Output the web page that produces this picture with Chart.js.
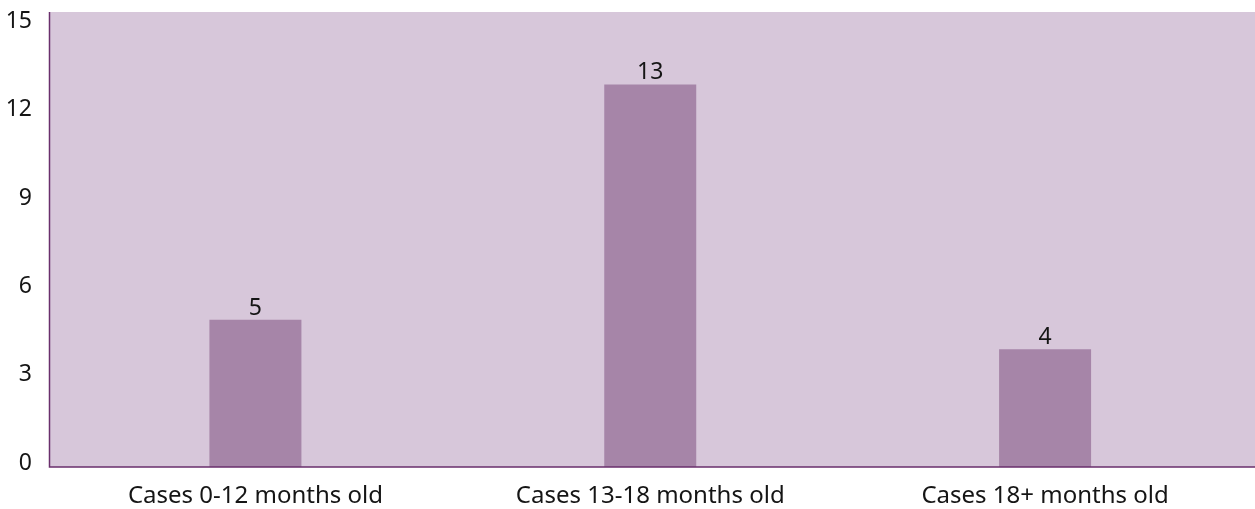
<!DOCTYPE html>
<html>
<head>
<meta charset="utf-8">
<script src="https://cdn.jsdelivr.net/npm/chart.js@4"></script>
<style>
  html, body { margin: 0; padding: 0; background: #ffffff; }
</style>
</head>
<body>
<canvas id="chart" width="1255" height="509"></canvas>
<script>
// Case counts by age group
const categories = ['Cases 0-12 months old', 'Cases 13-18 months old', 'Cases 18+ months old'];
const caseCounts = [5, 13, 4];
const yTickStep = 3;

const PLOT_BG = '#d7c7da';
const BAR_COLOR = '#a685a8';
const AXIS_COLOR = '#6a2f6c';
const TEXT_COLOR = '#151515';
const FONT = '"Noto Sans", "Open Sans", sans-serif';
const FONT_SIZE = 23;
const CATEGORY_FONT_SIZE = 24;

// Plot background and axis lines, extended a little past the category band
const plotFrame = {
  id: 'plotFrame',
  beforeDatasetsDraw(chart) {
    const { ctx, chartArea: a } = chart;
    const left = a.left - 8.5, right = chart.width;
    ctx.save();
    ctx.fillStyle = PLOT_BG;
    ctx.fillRect(left, a.top, right - left, a.bottom - a.top);
    ctx.restore();
  },
  afterDatasetsDraw(chart) {
    const { ctx, chartArea: a } = chart;
    const left = a.left - 8.5, right = chart.width;
    ctx.save();
    ctx.strokeStyle = AXIS_COLOR;
    ctx.lineWidth = 1.5;
    ctx.beginPath();
    ctx.moveTo(left, a.top);
    ctx.lineTo(left, a.bottom);
    ctx.lineTo(right, a.bottom);
    ctx.stroke();
    ctx.restore();
  }
};

// Value labels above each bar
const valueLabels = {
  id: 'valueLabels',
  afterDatasetsDraw(chart) {
    const { ctx } = chart;
    const meta = chart.getDatasetMeta(0);
    ctx.save();
    ctx.fillStyle = TEXT_COLOR;
    ctx.font = FONT_SIZE + 'px ' + FONT;
    ctx.textAlign = 'center';
    ctx.textBaseline = 'alphabetic';
    meta.data.forEach((bar, i) => {
      ctx.fillText(String(chart.data.datasets[0].data[i]), bar.x, bar.y - 5);
    });
    ctx.restore();
  }
};

new Chart(document.getElementById('chart'), {
  type: 'bar',
  data: {
    labels: categories,
    datasets: [{
      data: caseCounts,
      backgroundColor: BAR_COLOR,
      borderWidth: 0,
      categoryPercentage: 1,
      barPercentage: 0.233
    }]
  },
  options: {
    responsive: false,
    animation: false,
    layout: { padding: { left: 0, right: 12.5, top: 12, bottom: 0 } },
    plugins: {
      legend: { display: false },
      tooltip: { enabled: false }
    },
    scales: {
      x: {
        grid: { display: false, drawTicks: false },
        border: { display: false },
        ticks: {
          color: TEXT_COLOR,
          font: { family: FONT, size: CATEGORY_FONT_SIZE },
          padding: 15,
          maxRotation: 0
        },
        afterFit(scale) {
          scale.height = 42;
        }
      },
      y: {
        min: 0,
        max: 15.46,
        grid: { display: false, drawTicks: false },
        border: { display: false },
        ticks: {
          stepSize: yTickStep,
          includeBounds: false,
          color: TEXT_COLOR,
          font: { family: FONT, size: FONT_SIZE },
          padding: 26,
          labelOffset: -4
        },
        afterFit(scale) {
          scale.width = 58;
          scale.paddingTop = 0;
          scale.paddingBottom = 0;
        }
      }
    }
  },
  plugins: [plotFrame, valueLabels]
});
</script>
</body>
</html>
